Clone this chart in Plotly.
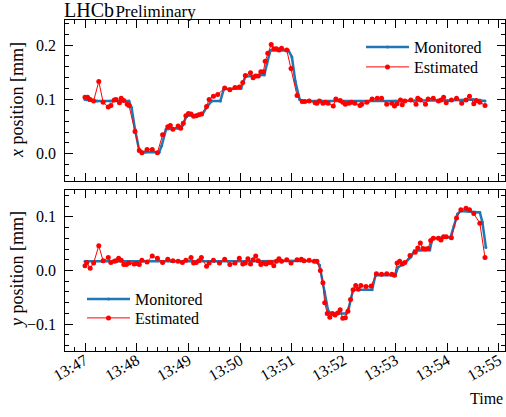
import pandas as pd
import plotly.graph_objects as go
from plotly.subplots import make_subplots

# ---------------- data (seconds after 13:47:00, positions in mm) ----------------
top_red_t = [0, 3, 6, 10, 16, 21, 27, 30, 34, 36, 40, 42, 45, 49, 51, 58, 63, 66, 72, 78,
             84, 90, 96, 99, 102, 108, 111, 114, 117, 120, 123, 126, 129, 132, 135, 141, 144,
             149, 154, 162, 168, 174, 179, 183, 186, 192, 195, 198, 201, 204, 207, 209, 212,
             216, 219, 222, 225, 228, 234, 239, 246, 252, 255, 260, 267, 269, 272, 276, 279,
             282, 288, 291, 296, 299, 302, 306, 309, 313, 319, 321, 327, 333, 339, 344, 350,
             356, 359, 362, 366, 368, 371, 378, 384, 386, 389, 395, 398, 404, 410, 413, 416,
             419, 425, 431, 437, 442, 446, 451, 454, 458, 464]
top_red_v = [0.104, 0.104, 0.100, 0.097, 0.133, 0.095, 0.086, 0.089, 0.099, 0.100, 0.094,
             0.102, 0.098, 0.091, 0.089, 0.041, 0.006, 0.002, 0.008, 0.008, 0.002, 0.035,
             0.050, 0.052, 0.045, 0.051, 0.047, 0.056, 0.070, 0.074, 0.073, 0.069, 0.070,
             0.072, 0.073, 0.087, 0.100, 0.106, 0.109, 0.121, 0.118, 0.122, 0.123, 0.131,
             0.144, 0.149, 0.140, 0.143, 0.143, 0.151, 0.151, 0.170, 0.185, 0.201, 0.193,
             0.193, 0.191, 0.194, 0.191, 0.157, 0.107, 0.096, 0.096, 0.097, 0.094, 0.093,
             0.097, 0.093, 0.095, 0.093, 0.088, 0.101, 0.098, 0.095, 0.091, 0.093, 0.095,
             0.093, 0.089, 0.091, 0.095, 0.101, 0.102, 0.102, 0.091, 0.093, 0.088, 0.092,
             0.099, 0.090, 0.097, 0.099, 0.091, 0.102, 0.099, 0.091, 0.101, 0.102, 0.097,
             0.099, 0.104, 0.094, 0.099, 0.102, 0.093, 0.099, 0.106, 0.092, 0.098, 0.095,
             0.089]

top_blue_t = [0, 5, 14, 30, 44, 51, 54, 58, 63, 70, 86, 89, 94, 108, 113, 118, 136, 141,
              147, 157, 161, 181, 186, 208, 211, 215, 236, 240, 244, 249, 252, 270, 300,
              330, 360, 390, 420, 450, 458, 464]
top_blue_v = [0.100, 0.098, 0.097, 0.097, 0.098, 0.097, 0.085, 0.045, 0.005, 0.003, 0.003,
              0.015, 0.045, 0.047, 0.052, 0.070, 0.072, 0.085, 0.097, 0.097, 0.119, 0.120,
              0.142, 0.145, 0.165, 0.190, 0.190, 0.178, 0.133, 0.100, 0.097, 0.097, 0.096,
              0.097, 0.097, 0.098, 0.098, 0.100, 0.099, 0.097]

bot_red_t = [0, 2, 6, 10, 16, 21, 27, 30, 34, 36, 39, 42, 45, 48, 51, 57, 60, 63, 66, 72,
             78, 84, 90, 96, 102, 108, 113, 117, 123, 126, 129, 132, 135, 141, 144, 149, 156,
             162, 168, 174, 179, 183, 186, 189, 192, 195, 198, 201, 204, 207, 210, 213, 216,
             219, 222, 225, 228, 234, 239, 246, 251, 254, 260, 266, 269, 273, 276, 278, 281,
             284, 287, 290, 293, 296, 299, 302, 305, 308, 311, 314, 317, 320, 326, 332, 338,
             344, 350, 356, 359, 362, 365, 368, 371, 377, 383, 386, 389, 392, 395, 398, 401,
             404, 410, 413, 416, 419, 425, 431, 436, 442, 446, 451, 458, 464]
bot_red_v = [0.009, 0.015, 0.004, 0.014, 0.046, 0.018, 0.024, 0.015, 0.017, 0.018, 0.023,
             0.019, 0.011, 0.011, 0.014, 0.012, 0.013, 0.011, 0.019, 0.016, 0.027, 0.023,
             0.015, 0.021, 0.018, 0.017, 0.015, 0.019, 0.024, 0.014, 0.015, 0.018, 0.024,
             0.008, 0.014, 0.019, 0.014, 0.021, 0.011, 0.014, 0.023, 0.012, 0.014, 0.022,
             0.012, 0.020, 0.027, 0.018, 0.011, 0.014, 0.012, 0.015, 0.015, 0.009, 0.017,
             0.022, 0.017, 0.020, 0.014, 0.020, 0.021, 0.018, 0.019, 0.017, 0.017, 0.000,
             -0.023, -0.060, -0.080, -0.087, -0.080, -0.083, -0.079, -0.073, -0.089, -0.088,
             -0.076, -0.054, -0.036, -0.028, -0.035, -0.028, -0.030, -0.029, -0.006, -0.007,
             -0.006, -0.007, -0.009, 0.014, 0.017, 0.012, 0.015, 0.028, 0.034, 0.042, 0.051,
             0.041, 0.040, 0.041, 0.056, 0.060, 0.060, 0.057, 0.063, 0.063, 0.061, 0.098,
             0.113, 0.116, 0.113, 0.106, 0.088, 0.024]

bot_blue_t = [0, 20, 60, 100, 150, 200, 250, 268, 272, 278, 282, 285, 303, 306, 311, 333,
              337, 360, 363, 370, 378, 382, 400, 403, 424, 428, 432, 436, 458, 461, 465]
bot_blue_v = [0.017, 0.017, 0.016, 0.017, 0.017, 0.017, 0.018, 0.017, 0.010, -0.040,
              -0.075, -0.080, -0.080, -0.070, -0.036, -0.036, -0.009, -0.009, 0.006, 0.012,
              0.025, 0.037, 0.038, 0.060, 0.062, 0.083, 0.105, 0.111, 0.108, 0.090, 0.043]

x_tick_labels = ["13:47", "13:48", "13:49", "13:50", "13:51", "13:52", "13:53", "13:54", "13:55"]
top_y_ticks = [0.0, 0.1, 0.2]
bot_y_ticks = [-0.1, 0.0, 0.1]

# ---------------- build ----------------
t0 = pd.Timestamp("2000-01-01 13:47:00")


def to_time(secs):
    return [t0 + pd.Timedelta(seconds=s) for s in secs]


def fmt_tick(v):
    return f"{v:.1f}".replace("-", "\u2212")


tick_vals = [pd.Timestamp("2000-01-01 " + lab + ":00") for lab in x_tick_labels]

FONT = "Liberation Serif"
BLUE = "#1f77b4"
RED = "#ff0000"

fig = make_subplots(rows=2, cols=1, shared_xaxes=True, vertical_spacing=0.027)

fig.add_trace(go.Scatter(x=to_time(top_blue_t), y=top_blue_v, mode="lines+markers",
                         name="Monitored", line=dict(color=BLUE, width=2.5),
                         marker=dict(size=3, color=BLUE), legend="legend"), row=1, col=1)
fig.add_trace(go.Scatter(x=to_time(top_red_t), y=top_red_v, mode="lines+markers",
                         name="Estimated", line=dict(color=RED, width=1),
                         marker=dict(size=5, color=RED), legend="legend2"), row=1, col=1)
fig.add_trace(go.Scatter(x=to_time(bot_blue_t), y=bot_blue_v, mode="lines+markers",
                         name="Monitored", line=dict(color=BLUE, width=2.5),
                         marker=dict(size=3, color=BLUE), legend="legend3"), row=2, col=1)
fig.add_trace(go.Scatter(x=to_time(bot_red_t), y=bot_red_v, mode="lines+markers",
                         name="Estimated", line=dict(color=RED, width=1),
                         marker=dict(size=5, color=RED), legend="legend4"), row=2, col=1)

x_range = [t0 - pd.Timedelta(seconds=23.2), t0 + pd.Timedelta(seconds=487.2)]

axis_common = dict(showline=True, linecolor="black", linewidth=1.2, mirror="allticks",
                   ticks="inside", ticklen=8, tickwidth=1, tickcolor="black",
                   showgrid=False, zeroline=False,
                   tickfont=dict(family=FONT, size=16, color="black"))

for r in (1, 2):
    fig.update_xaxes(range=x_range, tickvals=tick_vals, ticktext=x_tick_labels,
                     tickangle=-30, showticklabels=(r == 2), ticklabelstandoff=-7,
                     minor=dict(ticks="inside", ticklen=4, dtick=12000, tick0=t0,
                                tickcolor="black", showgrid=False),
                     row=r, col=1, **axis_common)

fig.update_yaxes(range=[-0.05, 0.246], tickvals=top_y_ticks, showticklabels=False,
                 minor=dict(ticks="inside", ticklen=4, dtick=0.02, tick0=0,
                            tickcolor="black", showgrid=False),
                 row=1, col=1, **axis_common)
fig.update_yaxes(range=[-0.15, 0.15], tickvals=bot_y_ticks, showticklabels=False,
                 minor=dict(ticks="inside", ticklen=4, dtick=0.02, tick0=0,
                            tickcolor="black", showgrid=False),
                 row=2, col=1, **axis_common)


def px_to_paper_y(py):
    return (351 - py) / 331


def px_to_paper_x(px):
    return (px - 65) / 440


def legend_at(px, py):
    return dict(x=px_to_paper_x(px), y=px_to_paper_y(py), xanchor="left", yanchor="middle",
                bgcolor="rgba(0,0,0,0)", font=dict(family=FONT, size=16, color="black"),
                itemwidth=43, visible=True)


annotations = [
    dict(text="LHCb<span style='font-size:17px'>\u200aPreliminary</span>", x=0, y=1,
         xref="paper", yref="paper", xanchor="left", yanchor="bottom", showarrow=False,
         font=dict(family=FONT, size=20, color="black"), xshift=-3, yshift=-3),
    dict(text="Time", x=1, y=-0.145, xref="paper", yref="paper", xanchor="right",
         yanchor="middle", showarrow=False, font=dict(family=FONT, size=16, color="black")),
    dict(text="<i>x</i> position [mm]", x=px_to_paper_x(17), y=px_to_paper_y(100),
         xref="paper", yref="paper", xanchor="center", yanchor="middle", textangle=-90,
         showarrow=False, font=dict(family=FONT, size=18, color="black")),
    dict(text="<i>y</i> position [mm]", x=px_to_paper_x(17), y=px_to_paper_y(270),
         xref="paper", yref="paper", xanchor="center", yanchor="middle", textangle=-90,
         showarrow=False, font=dict(family=FONT, size=18, color="black")),
]
# y tick labels placed at the axis values
for yref, ticks in (("y", top_y_ticks), ("y2", bot_y_ticks)):
    for v in ticks:
        annotations.append(dict(text=fmt_tick(v), x=0, y=v, xref="paper", yref=yref,
                                xanchor="right", yanchor="middle", xshift=-7,
                                showarrow=False, font=dict(family=FONT, size=16, color="black")))

fig.update_layout(
    width=506, height=417,
    showlegend=True,
    margin=dict(l=65, r=1, t=20, b=66, autoexpand=False),
    paper_bgcolor="white", plot_bgcolor="white",
    font=dict(family=FONT, size=16, color="black"),
    legend=legend_at(361, 47),
    legend2=legend_at(361, 67),
    legend3=legend_at(82, 299),
    legend4=legend_at(82, 318),
    annotations=annotations,
)

fig.write_html("out.html", config={"displayModeBar": False},
               post_script="document.body.style.margin='0';document.body.style.overflow='hidden';")
